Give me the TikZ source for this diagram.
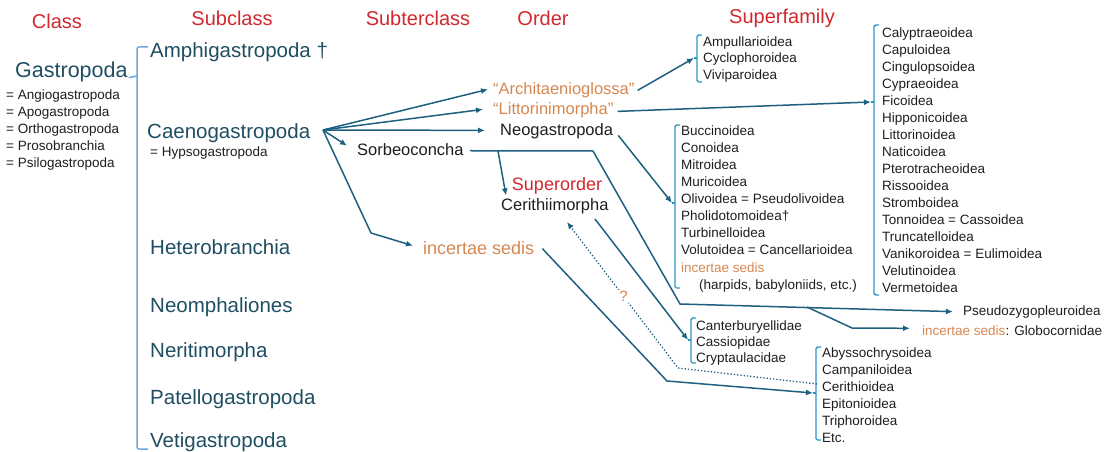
\documentclass[tikz,border=0pt]{standalone}
\usepackage{fontspec}
\setmainfont{Liberation Sans}
\usetikzlibrary{arrows.meta}
\definecolor{linkc}{RGB}{30,96,128}
\definecolor{brk}{RGB}{45,150,200}
\definecolor{gbrk}{RGB}{111,168,220}
\definecolor{subc}{RGB}{31,78,99}
\definecolor{hdrc}{RGB}{208,40,45}
\definecolor{orng}{RGB}{214,135,80}
\definecolor{ink}{RGB}{30,30,30}
\tikzset{
  lbl/.style={inner sep=0pt, anchor=mid west},
  hdrtxt/.style={inner sep=0pt, text=hdrc, font=\fontsize{20}{24}\selectfont},
  subtxt/.style={lbl, yshift=-4.5pt, text=subc, font=\fontsize{20.5}{24}\selectfont},
  syntxt/.style={lbl, yshift=-2.5pt, text=ink, font=\fontsize{13.5}{16}\selectfont},
  ordtxt/.style={lbl, yshift=-4pt, text=ink, font=\fontsize{16.5}{20}\selectfont},
  orgtxt/.style={lbl, yshift=-4pt, text=orng, font=\fontsize{16.5}{20}\selectfont},
  sftxt/.style={lbl, yshift=-2.5pt, text=ink, font=\fontsize{13.5}{16}\selectfont},
  link/.style={draw=linkc, line width=1.5pt, -{Latex[length=7pt,width=6pt]}},
  dotlink/.style={draw=linkc, line width=1.3pt, dotted, -{Latex[length=7pt,width=6pt]}},
  brack/.style={draw=brk, line width=1.4pt, rounded corners=1.5pt},
  gbrack/.style={draw=gbrk, line width=1.5pt, rounded corners=2pt},
}
\newcommand\sfbracket[4]{%
  \draw[brack] (#1+5,#2) -- (#1,#2) -- (#1,#3) -- (#1+5,#3);
  \draw[brack] (#1,#4) -- (#1-3,#4);
}
\begin{document}
\begin{tikzpicture}[x=1pt,y=-1pt]
\useasboundingbox (0,0) rectangle (1110,452);

% headers
\node[hdrtxt] (hclass) at (57,21) {Class};
\node[hdrtxt] (hsub) at (232,18) {Subclass};
\node[hdrtxt] (hsubt) at (418,18) {Subterclass};
\node[hdrtxt] (hord) at (543,18) {Order};
\node[hdrtxt] (hsf) at (782,18) {Superfamily};

% class
\node[lbl, yshift=-5pt, text=subc, font=\fontsize{21.5}{26}\selectfont] (gas) at (15,70) {Gastropoda};
\foreach \t [count=\i from 0] in {= Angiogastropoda, = Apogastropoda, = Orthogastropoda, = Prosobranchia, = Psilogastropoda}
  \node[syntxt] (syn\i) at (6,{94+17*\i}) {\t};

% class bracket
\draw[gbrack] (148,47) -- (137,47) -- (137,449) -- (148,449);
\draw[gbrack] ([xshift=1pt]gas.base east) -- (137,76);

% subclasses
\node[subtxt] (amph) at (150,50) {Amphigastropoda †};
\node[subtxt] (caeno) at (147,131) {Caenogastropoda};
\node[syntxt] (hyps) at (150,151) {= Hypsogastropoda};
\node[subtxt] (hetero) at (150,247) {Heterobranchia};
\node[subtxt] (neom) at (150,305) {Neomphaliones};
\node[subtxt] (nerit) at (150,350) {Neritimorpha};
\node[subtxt] (patel) at (150,397) {Patellogastropoda};
\node[subtxt] (vetig) at (150,440) {Vetigastropoda};

% orders etc.
\node[orgtxt] (arch) at (493,88) {“Architaenioglossa”};
\node[orgtxt] (litt) at (493,108) {“Littorinimorpha”};
\node[ordtxt] (neo) at (500,129) {Neogastropoda};
\node[ordtxt] (sorb) at (357,149) {Sorbeoconcha};
\node[inner sep=0pt, text=hdrc, font=\fontsize{18}{22}\selectfont] (supo) at (557,185.5) {Superorder};
\node[ordtxt] (cer) at (501,204) {Cerithiimorpha};
\node[lbl, yshift=-4.5pt, text=orng, font=\fontsize{18}{22}\selectfont] (inc) at (423,247) {incertae sedis};

% superfamily lists
\sfbracket{697}{35}{82}{58}
\coordinate (b1) at (694,58);
\foreach \t [count=\i from 0] in {Ampullarioidea, Cyclophoroidea, Viviparoidea}
  \node[sftxt] (am\i) at (703,{41+16.5*\i}) {\t};

\sfbracket{874}{25}{295}{102}
\coordinate (b2) at (871,102);
\foreach \t [count=\i from 0] in {Calyptraeoidea, Capuloidea, Cingulopsoidea, Cypraeoidea, Ficoidea, Hipponicoidea, Littorinoidea, Naticoidea, Pterotracheoidea, Rissooidea, Stromboidea, Tonnoidea = Cassoidea, Truncatelloidea, Vanikoroidea = Eulimoidea, Velutinoidea, Vermetoidea}
  \node[sftxt] (ca\i) at (882,{32+17*\i}) {\t};

\sfbracket{675}{125}{288}{203}
\coordinate (b3) at (672,203);
\foreach \t [count=\i from 0] in {Buccinoidea, Conoidea, Mitroidea, Muricoidea, Olivoidea = Pseudolivoidea, Pholidotomoidea†, Turbinelloidea, Volutoidea = Cancellarioidea}
  \node[sftxt] (bu\i) at (681,{130+17*\i}) {\t};
\node[sftxt, text=orng] (bu8) at (681,267) {incertae sedis};
\node[sftxt] (bu9) at (699,284) {(harpids, babyloniids, etc.)};

\sfbracket{691}{318}{363}{340}
\coordinate (b4) at (688,340);
\foreach \t [count=\i from 0] in {Canterburyellidae, Cassiopidae, Cryptaulacidae}
  \node[sftxt] (cb\i) at (696,{325+16*\i}) {\t};

\sfbracket{816}{347}{440}{393}
\coordinate (b5) at (813,393);
\coordinate (b5d) at (817,384);
\foreach \t [count=\i from 0] in {Abyssochrysoidea, Campaniloidea, Cerithioidea, Epitonioidea, Triphoroidea, Etc.}
  \node[sftxt] (ab\i) at (822,{352+17*\i}) {\t};

\node[sftxt] (pseudo) at (963,310) {Pseudozygopleuroidea};
\node[sftxt] (glob) at (922,330) {\textcolor{orng}{incertae sedis}: Globocornidae};

% connectors from Caenogastropoda
\coordinate (fan) at (323,130);
\draw[link] (fan) -- ([xshift=-5pt,yshift=1pt]arch.west);
\draw[link] (fan) -- ([xshift=-10pt,yshift=1pt]litt.west);
\draw[link] (fan) -- ([xshift=-15pt,yshift=1pt]neo.west);
\draw[link] (fan) -- ([xshift=-10pt,yshift=4pt]sorb.west);
\coordinate (bend1) at (371,233);
\draw[link] (fan) -- (bend1) -- ([xshift=-10pt,yshift=2pt]inc.west);

% Sorbeoconcha
\coordinate (s1) at (593,151);
\coordinate (s2) at (680,304);
\coordinate (s3) at (807,307);
\coordinate (s4) at (852,328);
\coordinate (s0) at (498,151);
\draw[link] ([xshift=6pt,yshift=-1pt]sorb.east) -- (s1) -- (s2) -- ([xshift=-10pt]pseudo.west);
\draw[link] (s3) -- (s4) -- ([xshift=-12pt,yshift=2pt]glob.west);
\draw[link] (s0) -- ([xshift=5pt,yshift=3pt]cer.north west);

% orders to superfamilies
\draw[link] ([xshift=3pt]arch.east) -- (b1);
\draw[link] ([xshift=4pt,yshift=-1pt]litt.east) -- (b2);
\draw[link] ([xshift=5pt,yshift=-4pt]neo.east) -- (b3);
\coordinate (c1) at (595,219);
\draw[link] (c1) -- (b4);
\coordinate (i1) at (667,381);
\draw[link] ([xshift=8pt,yshift=-1pt]inc.east) -- (i1) -- (b5);
\coordinate (d1) at (678,368);
\coordinate (d2) at (567,222);
\draw[dotlink] (b5d) -- (d1) -- node[pos=0.49, fill=white, inner sep=1pt, text=orng, font=\fontsize{15}{18}\selectfont] (qm) {?} (d2);
\end{tikzpicture}
\end{document}
